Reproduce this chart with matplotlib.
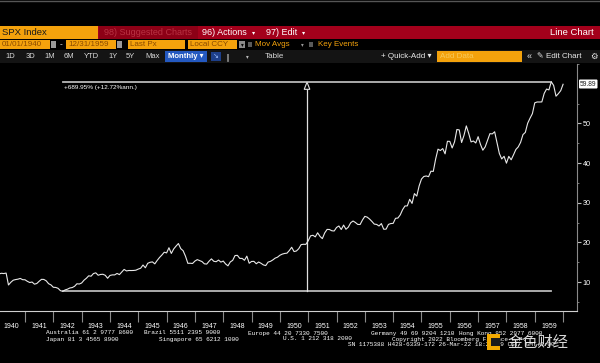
import numpy as np
import matplotlib.pyplot as plt
from matplotlib.patches import Rectangle, Polygon

# S&P 500 monthly closes (month end), Jan 1940 .. Dec 1959
spx_1940s = [
    12.05, 12.22, 12.15, 12.27, 9.27, 9.95, 10.47, 10.63, 10.73, 10.92, 10.60, 10.58,
    10.19, 9.89, 10.01, 9.47, 9.64, 10.21, 10.69, 10.66, 10.31, 9.59, 9.29, 8.69,
    8.65, 8.43, 7.84, 7.66, 8.02, 8.21, 8.51, 8.61, 8.93, 9.57, 9.51, 9.77,
    10.47, 10.96, 11.58, 11.48, 12.15, 12.33, 11.72, 11.92, 11.97, 11.71, 10.96, 11.67,
    11.81, 11.81, 12.18, 11.88, 12.54, 13.19, 12.81, 12.92, 12.91, 12.93, 13.00, 13.28,
    13.49, 14.30, 13.61, 14.73, 14.99, 15.09, 14.59, 15.45, 16.20, 16.82, 17.53, 17.36,
    18.66, 17.22, 18.35, 19.07, 19.72, 18.43, 17.91, 16.53, 14.73, 14.75, 14.69, 15.30,
    15.66, 15.41, 15.17, 14.60, 14.54, 15.27, 15.85, 15.24, 15.14, 15.55, 15.04, 15.30,
    14.57, 14.10, 15.08, 15.48, 16.69, 16.74, 15.97, 15.97, 15.49, 16.54, 14.75, 15.20,
    15.22, 14.62, 15.06, 14.74, 14.33, 14.16, 15.04, 15.22, 15.58, 16.04, 16.28, 16.76,
]
spx_1950s = [
    17.05, 17.22, 17.29, 17.96, 18.78, 17.69, 17.84, 18.42, 19.45, 19.53, 19.51, 20.41,
    21.66, 21.80, 21.40, 22.43, 21.52, 20.96, 22.40, 23.28, 23.26, 22.94, 22.88, 23.77,
    24.14, 23.26, 24.37, 23.32, 23.86, 24.96, 25.40, 25.03, 24.54, 24.52, 25.66, 26.57,
    26.38, 25.90, 25.29, 24.62, 24.54, 24.14, 24.75, 23.32, 23.35, 24.54, 24.76, 24.81,
    26.08, 26.15, 26.94, 28.26, 29.19, 29.21, 30.88, 29.83, 32.31, 31.68, 34.24, 35.98,
    36.63, 36.76, 36.58, 37.96, 37.91, 41.03, 43.52, 43.18, 43.67, 42.34, 45.51, 45.48,
    43.82, 45.34, 48.48, 48.38, 45.20, 46.97, 49.39, 47.51, 45.35, 45.58, 45.08, 46.67,
    44.72, 43.26, 44.11, 45.74, 47.43, 47.37, 47.91, 45.22, 42.42, 41.06, 41.72, 39.99,
    41.70, 40.84, 42.10, 43.44, 44.09, 45.24, 47.19, 47.75, 50.06, 51.33, 52.48, 55.21,
    55.42, 55.41, 55.44, 57.59, 58.68, 58.47, 60.51, 59.60, 56.88, 57.52, 58.28, 59.89,
]
first_year = 1940
year_labels = [str(y) for y in range(1940, 1960)]

legend_labels = ['Last Price', 'High on 07/31/59', 'Average', 'Low on 04/30/42']
legend_values = ['59.89', '60.51', '24.46', '7.66']
low_value, low_when = 7.66, 1942 + 4 / 12
high_value, high_when = 60.51, 1959 + 7 / 12
change_text = '+689.95% (+12.72%ann.)'
last_text = '59.89'

footer_lines = [
    [(46, 'Australia 61 2 9777 8600'), (144, 'Brazil 5511 2395 9000'),
     (248, 'Europe 44 20 7330 7500'), (371, 'Germany 49 69 9204 1210'),
     (459, 'Hong Kong 852 2977 6000')],
    [(46, 'Japan 81 3 4565 8900'), (159, 'Singapore 65 6212 1000'),
     (283, 'U.S. 1 212 318 2000'), (392, 'Copyright 2022 Bloomberg Finance L.P.')],
    [(348, 'SN 1175388 H428-6339-172 26-Mar-22 18:26:09 CST  GMT+8:00')],
]

values = np.array(spx_1940s + spx_1950s)
t = first_year + (np.arange(len(values)) + 1) / 12.0

UI = ['Liberation Sans', 'DejaVu Sans']
ORANGE = '#f4a20c'
RED = '#a3001b'

W, H = 600, 363
fig = plt.figure(figsize=(6, 3.63), dpi=100, facecolor='black')

# pixel canvas for the terminal chrome
bg = fig.add_axes([0, 0, 1, 1])
bg.set_xlim(0, W)
bg.set_ylim(H, 0)
bg.axis('off')
bg.add_patch(Rectangle((0, 0), W, H, color='black', zorder=0))
bg.plot([0, W], [0.5, 0.5], color='#555555', lw=1)


def box(x0, y0, x1, y1, color, z=1):
    bg.add_patch(Rectangle((x0, y0), x1 - x0, y1 - y0, color=color, lw=0, zorder=z))


def txt(x, y, s, color='white', size=6, ha='left', **kw):
    bg.text(x, y, s, color=color, fontsize=size, ha=ha, va='center',
            family=kw.pop('family', UI), zorder=5, **kw)


# title bar
box(0, 26, W, 39, RED)
box(0, 26, 98, 39, ORANGE)
box(99, 26, 198, 39, '#8d0016')
txt(2, 32.5, 'SPX Index', color='#1a1a1a', size=6.8)
txt(104, 32.5, '98) Suggested Charts', color='#b83242', size=6.5)
txt(202, 32.5, '96) Actions', size=6.5)
txt(252, 32.5, '\u25be', size=4.5)
txt(266, 32.5, '97) Edit', size=6.5)
txt(302, 32.5, '\u25be', size=4.5)
txt(594, 32.5, 'Line Chart', size=6.8, ha='right')

# row 2
for x0, x1, s in [(0, 50, '01/01/1940'), (66, 116, '12/31/1959'),
                  (128, 185, 'Last Px'), (188, 237, 'Local CCY')]:
    box(x0, 40, x1, 49, ORANGE)
    txt(x0 + 2, 44.5, s, color='#8a4a00', size=5.8)
for x0 in (51, 117):
    box(x0, 41, x0 + 5, 48, '#9a9a9a')
txt(60, 44.5, '-', size=6)
box(239, 41, 245, 48, '#8a8a8a')
txt(242, 44.5, '\u25be', color='black', size=4, ha='center')
box(248, 42, 252, 47, '#5a5a5a')
txt(255, 44.5, 'Mov Avgs', color=ORANGE, size=5.8)
txt(301, 44.5, '\u25be', color='#999999', size=4)
box(309, 42, 313, 47, '#5a5a5a')
txt(318, 44.5, 'Key Events', color=ORANGE, size=5.8)

# row 3
box(0, 50, W, 63, '#141414')
for x, s in [(5, '1D'), (26, '3D'), (44, '1M'), (64, '6M'), (84, 'YTD'),
             (108, '1Y'), (126, '5Y'), (145, 'Max')]:
    txt(x, 56.5, s, color='#d8d8d8', size=5.5)
box(165, 51, 207, 62, '#2459c0')
txt(168, 56.5, 'Monthly \u25be', size=5.5, weight='bold')
box(211, 52, 221, 61, '#1d3f8a')
txt(216, 56.5, '\u2198', color='#9fc0ff', size=5, ha='center')
txt(226, 56.5, '\u2225', color='#bbbbbb', size=5.5, family=['DejaVu Sans'])
txt(246, 56.5, '\u25be', color='#bbbbbb', size=4)
txt(265, 56.5, 'Table', color='#d8d8d8', size=5.8)
txt(381, 56.5, '+ Quick-Add \u25be', color='#e8e8e8', size=5.8)
box(437, 51, 522, 62, ORANGE)
txt(440, 56.5, 'Add Data', color='#f7c95a', size=5.8)
txt(527, 56.5, '\u00ab', color='#e8e8e8', size=6.5)
txt(537, 56.5, '\u270e Edit Chart', color='#e8e8e8', size=5.8,
    family=['Liberation Sans', 'DejaVu Sans'])
txt(590, 56.5, '\u2699', color='#e8e8e8', size=6, family=['DejaVu Sans'])

# chart area
top_px, bot_px, right_px = 64, 311, 577
ax = fig.add_axes([0, (H - bot_px) / H, right_px / W, (bot_px - top_px) / H])
ax.set_facecolor('black')
px_per_year = 28.32
x_1941 = 25
ax.set_xlim(1941 - x_1941 / px_per_year, 1941 + (right_px - x_1941) / px_per_year)
px_per_unit = 3.975
ax.set_ylim(10 - (bot_px - 282) / px_per_unit, 10 + (282 - top_px) / px_per_unit)

ax.plot(t, values, color='#e8e8e8', lw=0.8, zorder=3)

# measurement annotation
ax.plot([low_when, high_when], [low_value, low_value], color='#b8b8b8', lw=1.3, zorder=2)
ax.plot([low_when, high_when], [high_value, high_value], color='#b8b8b8', lw=1.3, zorder=2)
mid = (low_when + high_when) / 2
ax.plot([mid, mid], [low_value, high_value - 1.2], color='#e0e0e0', lw=0.9, zorder=2)
ax.add_patch(Polygon([[mid - 0.1, high_value - 1.9], [mid + 0.1, high_value - 1.9],
                      [mid, high_value - 0.1]], closed=True, facecolor='black',
                     edgecolor='#e0e0e0', lw=0.8, zorder=4))
ax.text(low_when + 0.05, high_value - 0.9, change_text, color='white', fontsize=4.6,
        family=UI, va='top', ha='left', zorder=5)

# axes styling
for s in ('left', 'top'):
    ax.spines[s].set_visible(False)
ax.spines['right'].set_color('#8a8a8a')
ax.spines['bottom'].set_color('#d0d0d0')
ax.yaxis.tick_right()
ax.set_yticks([10, 20, 30, 40, 50])
ax.set_yticks([5, 15, 25, 35, 45, 55, 65], minor=True)
ax.tick_params(axis='y', which='major', direction='out', length=3, width=0.8,
               color='#bbbbbb', labelcolor='white', labelsize=5.2, pad=1)
ax.tick_params(axis='y', which='minor', direction='out', length=1.5, width=0.6,
               color='#888888')
for lab in ax.get_yticklabels():
    lab.set_family(UI)

ax.set_xticks(range(1941, 1961))
ax.set_xticklabels([])
ax.set_xticks([y + 0.5 for y in range(1940, 1960)], minor=True)
ax.set_xticklabels(year_labels, minor=True)
ax.tick_params(axis='x', which='major', direction='out', length=8, width=0.8,
               color='#8a8a8a')
ax.tick_params(axis='x', which='minor', length=0, labelcolor='white',
               labelsize=5, pad=9)
for lab in ax.get_xticklabels(minor=True):
    lab.set_family(UI)

# last price tag
bg.text(580, 84, last_text, color='#222222', fontsize=4.8, family=UI, va='center',
        ha='left', zorder=6,
        bbox=dict(boxstyle='round,pad=0.15', facecolor='white', edgecolor='none'))

# legend block
ly = [122, 131, 139.5, 148]
box(12, 119, 18, 125, 'white', z=4)
bg.plot([7, 7], [119, 148], color='#777777', lw=0.6, zorder=4)
bg.add_patch(Rectangle((4.5, 119.5), 5, 5, fill=False, edgecolor='#888888', lw=0.6, zorder=4))
for y in ly[1:]:
    bg.plot([7, 11], [y, y], color='#777777', lw=0.6, zorder=4)
txt(15, ly[1], '\u22a4', color='#bbbbbb', size=5, ha='center', family=['DejaVu Sans'])
txt(15, ly[2], '\u2192', color='#bbbbbb', size=5, ha='center', family=['DejaVu Sans'])
txt(15, ly[3], '\u22a5', color='#bbbbbb', size=5, ha='center', family=['DejaVu Sans'])
for y, lab, val in zip(ly, legend_labels, legend_values):
    txt(20, y, lab, size=5.2)
    txt(97, y, val, size=5.2, ha='right')

# footer
MONO = ['Liberation Mono', 'DejaVu Sans Mono']
for y, line in zip([333, 339, 345], footer_lines):
    for x, s in line:
        txt(x, y, s, size=4.4, family=MONO)

# watermark
box(487, 334, 500, 350, '#f2a900', z=6)
box(491, 338, 500, 346, '#1a1a1a', z=6)
bg.text(508, 342, '金色财经', color='white', alpha=0.85, fontsize=11,
        family=['Noto Sans CJK SC'], va='center', ha='left', zorder=7)

fig.savefig('out.png', dpi=100, facecolor='black')
